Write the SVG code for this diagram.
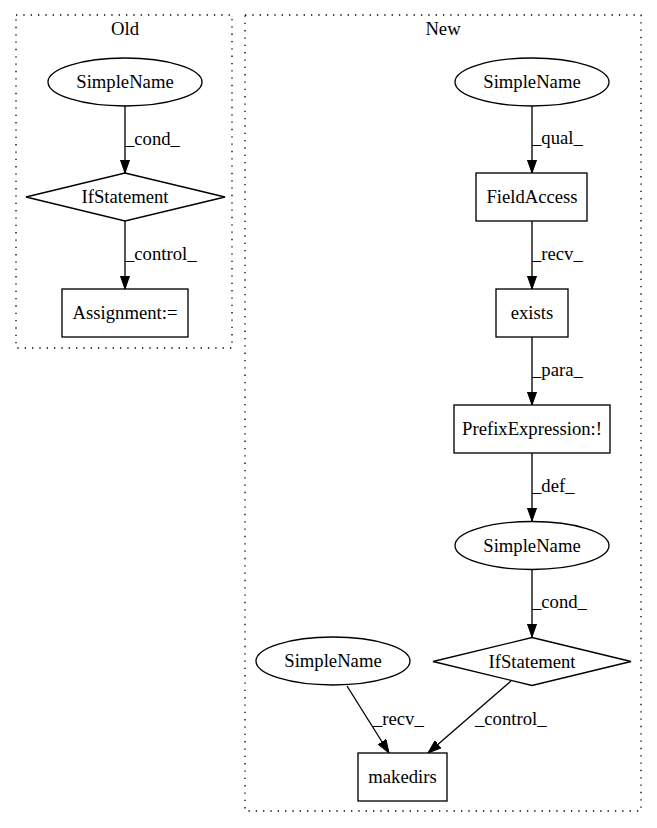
<svg xmlns="http://www.w3.org/2000/svg" width="657" height="828" viewBox="0 0 657 828">
<style>
text{font-family:"Liberation Serif","Times New Roman",serif;font-size:18.67px;fill:#000}
.c{text-anchor:middle}
.cl{fill:none;stroke:#000;stroke-width:1.33;stroke-dasharray:1.33,6}
.n{fill:#fff;stroke:#000;stroke-width:1.33}
.e{fill:none;stroke:#000;stroke-width:1.33;marker-end:url(#arr)}
</style>
<defs>
<marker id="arr" markerUnits="userSpaceOnUse" viewBox="0 0 14 10" refX="13.33" refY="5" markerWidth="14" markerHeight="10" orient="auto">
<path d="M0,0.33 L13.33,5 L0,9.67 z" fill="#000" stroke="#000" stroke-width="1"/>
</marker>
</defs>
<rect width="657" height="828" fill="#fff"/>
<g id="cluster_old">
<rect class="cl" x="16" y="15" width="216" height="333"/>
<text class="c" x="125" y="35">Old</text>
</g>
<g id="cluster_new">
<rect class="cl" x="245" y="15" width="396" height="796"/>
<text class="c" x="443" y="35">New</text>
</g>
<g id="connectors">
<path class="e" d="M125,106 L125,173"/>
<text x="125" y="145">_cond_</text>
<path class="e" d="M125,221 L125,289"/>
<text x="125" y="260">_control_</text>
<path class="e" d="M532,106 L532,173"/>
<text x="532" y="144">_qual_</text>
<path class="e" d="M532,221 L532,289"/>
<text x="532" y="260">_recv_</text>
<path class="e" d="M532,337 L532,405"/>
<text x="532" y="376">_para_</text>
<path class="e" d="M532,453 L532,521"/>
<text x="532" y="492">_def_</text>
<path class="e" d="M532,570 L532,637"/>
<text x="532" y="608">_cond_</text>
<path class="e" d="M347,686 L389,753"/>
<text x="373" y="725">_recv_</text>
<path class="e" d="M511,681 L428,753"/>
<text x="475" y="725">_control_</text>
</g>
<g id="old_simplename">
<ellipse class="n" cx="125" cy="82" rx="77" ry="24"/>
<text class="c" x="125" y="88">SimpleName</text>
</g>
<g id="old_ifstatement">
<polygon class="n" points="125,173 225,197 125,221 26,197"/>
<text class="c" x="125" y="203">IfStatement</text>
</g>
<g id="old_assignment">
<rect class="n" x="62" y="289" width="126" height="48"/>
<text class="c" x="125" y="319">Assignment:=</text>
</g>
<g id="new_simplename1">
<ellipse class="n" cx="532" cy="82" rx="77" ry="24"/>
<text class="c" x="532" y="88">SimpleName</text>
</g>
<g id="new_fieldaccess">
<rect class="n" x="476" y="173" width="111" height="48"/>
<text class="c" x="532" y="203">FieldAccess</text>
</g>
<g id="new_exists">
<rect class="n" x="496" y="289" width="72" height="48"/>
<text class="c" x="532" y="319">exists</text>
</g>
<g id="new_prefix">
<rect class="n" x="454" y="405" width="156" height="48"/>
<text class="c" x="532" y="435">PrefixExpression:!</text>
</g>
<g id="new_simplename2">
<ellipse class="n" cx="532" cy="545.5" rx="77" ry="24"/>
<text class="c" x="532" y="551.5">SimpleName</text>
</g>
<g id="new_ifstatement">
<polygon class="n" points="532,637.5 631,661.5 532,685.5 433,661.5"/>
<text class="c" x="532" y="667.5">IfStatement</text>
</g>
<g id="new_simplename3">
<ellipse class="n" cx="333" cy="661" rx="77" ry="24"/>
<text class="c" x="333" y="667">SimpleName</text>
</g>
<g id="new_makedirs">
<rect class="n" x="358" y="753" width="89" height="48"/>
<text class="c" x="402.5" y="783">makedirs</text>
</g>
</svg>
